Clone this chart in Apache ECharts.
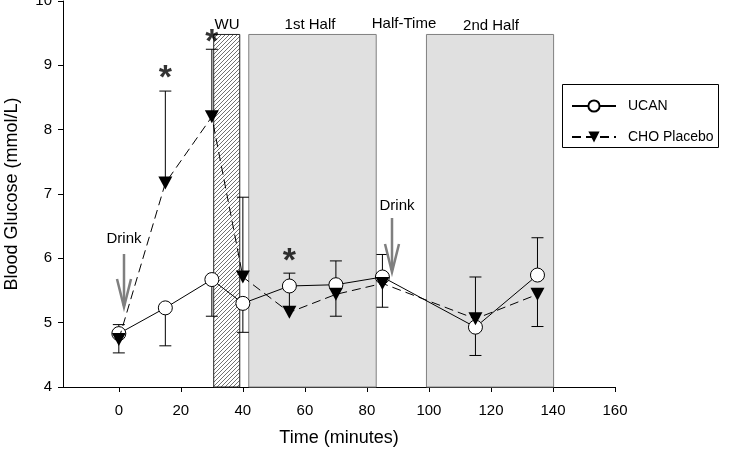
<!DOCTYPE html>
<html>
<head>
<meta charset="utf-8">
<script src="https://cdn.jsdelivr.net/npm/echarts@6/dist/echarts.min.js"></script>
<style>
  html, body { margin: 0; padding: 0; background: #fff; }
  #chart { width: 732px; height: 452px; }
</style>
</head>
<body>
<div id="chart"></div>
<script>
// sampling times (minutes)
var times = [0, 15, 30, 40, 55, 70, 85, 115, 135];

// UCAN: means and the end of the drawn error bar
var ucan = [4.83, 5.23, 5.67, 5.30, 5.57, 5.59, 5.71, 4.93, 5.74];
var ucanErr = [4.97, 4.64, 5.10, 4.85, 5.77, 5.96, 6.06, 4.49, 6.32];

// CHO Placebo
var cho = [4.74, 7.17, 8.20, 5.71, 5.16, 5.44, 5.61, 5.06, 5.44];
var choErr = [4.53, 8.60, 9.25, 6.95, 5.55, 5.10, 5.24, 5.71, 4.94];

// phases: warm-up, 1st half, 2nd half
var phaseStart = [30.6, 41.9, 99.2];
var phaseEnd = [39, 83, 140.2];
var phaseTop = 9.48;

// significance markers
var starX = [15, 30, 55];
var starY = [8.92, 9.48, 6.08];

var xTicks = [0, 20, 40, 60, 80, 100, 120, 140, 160];

var FONT = "'Liberation Sans', Arial, sans-serif";

// hatch pattern for the warm-up block
var hatch = document.createElement('canvas');
hatch.width = 4;
hatch.height = 4;
var hc = hatch.getContext('2d');
hc.strokeStyle = '#333';
hc.lineWidth = 0.7;
hc.beginPath();
hc.moveTo(0, 4); hc.lineTo(4, 0);
hc.moveTo(-1, 1); hc.lineTo(1, -1);
hc.moveTo(3, 5); hc.lineTo(5, 3);
hc.stroke();

function pairs(xs, ys, es) {
	return xs.map(function(x, i) { return [x, ys[i], es[i]]; });
}

function errRender(params, api) {
	var a = api.coord([api.value(0), api.value(1)]);
	var b = api.coord([api.value(0), api.value(2)]);
	return {
		type: 'group',
		children: [
			{ type: 'line', shape: { x1: a[0], y1: a[1], x2: b[0], y2: b[1] }, style: { stroke: '#000', lineWidth: 1 } },
			{ type: 'line', shape: { x1: b[0] - 6, y1: b[1], x2: b[0] + 6, y2: b[1] }, style: { stroke: '#000', lineWidth: 1 } }
		]
	};
}

var downTri = 'path://M0,0L14,0L7,13Z';

var option = {
	animation: false,
	textStyle: { fontFamily: FONT },
	grid: { left: 63, right: 117, top: 1, bottom: 65, outerBoundsMode: 'none', containLabel: false },
	xAxis: {
		type: 'value',
		min: -18,
		max: 160,
		name: 'Time (minutes)',
		nameLocation: 'middle',
		nameGap: 42,
		nameTextStyle: { fontSize: 18, color: '#000', fontFamily: FONT },
		axisLine: { onZero: false, lineStyle: { color: '#000', width: 1 } },
		axisTick: { length: 5, lineStyle: { color: '#000' }, customValues: xTicks },
		axisLabel: { fontSize: 15, color: '#000', margin: 16, customValues: xTicks },
		splitLine: { show: false }
	},
	yAxis: {
		type: 'value',
		min: 4,
		max: 10,
		interval: 1,
		name: 'Blood Glucose (mmol/L)',
		nameLocation: 'middle',
		nameGap: 42,
		nameTextStyle: { fontSize: 18, color: '#000', fontFamily: FONT },
		axisLine: { show: true, onZero: false, lineStyle: { color: '#000', width: 1 } },
		axisTick: { show: true, length: 5, lineStyle: { color: '#000' } },
		axisLabel: { fontSize: 15, color: '#000', margin: 11 },
		splitLine: { show: false }
	},
	legend: {
		data: ['UCAN', 'CHO Placebo'],
		orient: 'vertical',
		left: 571,
		top: 99,
		itemGap: 17,
		itemWidth: 44,
		itemHeight: 14,
		padding: 0,
		textStyle: { fontSize: 14, color: '#000', fontFamily: FONT, padding: [0, 0, 0, 7] }
	},
	graphic: [
		{ type: 'rect', left: 562, top: 84, z: -1, shape: { width: 156, height: 63 }, style: { fill: '#fff', stroke: '#000', lineWidth: 1 } },
		{ type: 'text', x: 227, y: 25, style: { text: 'WU', font: '15px ' + FONT, fill: '#000', align: 'center', verticalAlign: 'middle' } },
		{ type: 'text', x: 310, y: 25, style: { text: '1st Half', font: '15px ' + FONT, fill: '#000', align: 'center', verticalAlign: 'middle' } },
		{ type: 'text', x: 404, y: 24, style: { text: 'Half-Time', font: '15px ' + FONT, fill: '#000', align: 'center', verticalAlign: 'middle' } },
		{ type: 'text', x: 491, y: 26, style: { text: '2nd Half', font: '15px ' + FONT, fill: '#000', align: 'center', verticalAlign: 'middle' } },
		{ type: 'text', x: 124, y: 239, style: { text: 'Drink', font: '15px ' + FONT, fill: '#000', align: 'center', verticalAlign: 'middle' } },
		{ type: 'text', x: 397, y: 206, style: { text: 'Drink', font: '15px ' + FONT, fill: '#000', align: 'center', verticalAlign: 'middle' } },
		{ type: 'polyline', z: 50, shape: { points: [[124, 254], [124, 306]] }, style: { stroke: '#7f7f7f', lineWidth: 2.5 } },
		{ type: 'polyline', z: 50, shape: { points: [[117, 279], [124, 307], [131, 279]] }, style: { stroke: '#7f7f7f', lineWidth: 2.5, fill: null } },
		{ type: 'polyline', z: 50, shape: { points: [[392, 218], [392, 270]] }, style: { stroke: '#7f7f7f', lineWidth: 2.5 } },
		{ type: 'polyline', z: 50, shape: { points: [[385, 244], [392, 272], [399, 244]] }, style: { stroke: '#7f7f7f', lineWidth: 2.5, fill: null } }
	],
	series: [
		{
			type: 'custom',
			z: 1,
			silent: true,
			encode: { x: [0, 1], y: 2 },
			data: phaseStart.map(function(s, i) { return [s, phaseEnd[i], phaseTop]; }),
			renderItem: function(params, api) {
				var p0 = api.coord([api.value(0), 4]);
				var p1 = api.coord([api.value(1), api.value(2)]);
				var first = params.dataIndex === 0;
				return {
					type: 'rect',
					shape: { x: p0[0], y: p1[1], width: p1[0] - p0[0], height: p0[1] - p1[1] },
					style: {
						fill: first ? { image: hatch, repeat: 'repeat' } : '#e0e0e0',
						stroke: first ? '#222' : '#808080',
						lineWidth: 1
					}
				};
			}
		},
		{
			type: 'custom',
			z: 2,
			silent: true,
			encode: { x: 0, y: [1, 2] },
			data: pairs(times, ucan, ucanErr),
			renderItem: errRender
		},
		{
			type: 'custom',
			z: 2,
			silent: true,
			encode: { x: 0, y: [1, 2] },
			data: pairs(times, cho, choErr),
			renderItem: errRender
		},
		{
			name: 'UCAN',
			type: 'line',
			z: 3,
			data: times.map(function(t, i) { return [t, ucan[i]]; }),
			symbol: 'circle',
			symbolSize: 14,
			showAllSymbol: true,
			itemStyle: { color: '#fff', borderColor: '#000', borderWidth: 1 },
			lineStyle: { color: '#000', width: 1 }
		},
		{
			name: 'CHO Placebo',
			type: 'line',
			z: 4,
			data: times.map(function(t, i) { return [t, cho[i]]; }),
			symbol: downTri,
			symbolSize: [14, 13],
			showAllSymbol: true,
			itemStyle: { color: '#000', borderColor: '#000', borderWidth: 0 },
			lineStyle: { color: '#000', width: 1, type: [9, 5] }
		},
		{
			type: 'scatter',
			z: 5,
			silent: true,
			data: starX.map(function(x, i) { return [x, starY[i]]; }),
			symbolSize: 1,
			itemStyle: { color: 'rgba(0,0,0,0)' },
			label: {
				show: true,
				position: 'inside',
				formatter: '*',
				fontSize: 34,
				fontWeight: 'bold',
				color: '#000',
				fontFamily: FONT,
				offset: [0, 8]
			}
		}
	]
};

var chart = echarts.init(document.getElementById('chart'));
chart.setOption(option);
</script>
</body>
</html>
